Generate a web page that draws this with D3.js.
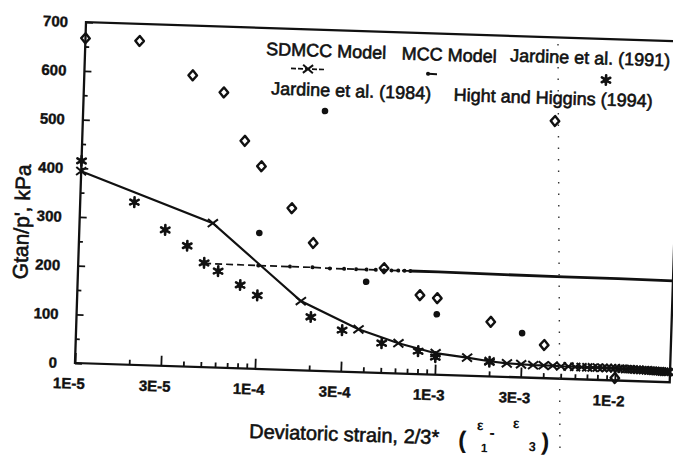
<!DOCTYPE html>
<html><head><meta charset="utf-8">
<script src="https://cdn.jsdelivr.net/npm/d3@7"></script>
<style>
body{margin:0;background:#fff}
svg{display:block}
text{font-family:"Liberation Sans",Arial,Helvetica,sans-serif;fill:#111}
</style>
</head><body><svg id="c" width="673" height="456"></svg>
<script>
// ---------- data ----------
const xTickValues = [1e-5, 3e-5, 1e-4, 3e-4, 1e-3, 3e-3, 1e-2];
const xTickLabels = ["1E-5", "3E-5", "1E-4", "3E-4", "1E-3", "3E-3", "1E-2"];
const xMinorTicks = [2e-5, 4e-5, 5e-5, 6e-5, 7e-5, 8e-5, 9e-5,
                     2e-4, 4e-4, 5e-4, 6e-4, 7e-4, 8e-4, 9e-4,
                     2e-3, 4e-3, 5e-3, 6e-3, 7e-3, 8e-3, 9e-3];
const yTickValues = [0, 100, 200, 300, 400, 500, 600, 700];
const yMinorTicks = [50, 150, 250, 350, 450, 550, 650];

const legendLabels = ["SDMCC Model", "MCC Model", "Jardine et al. (1991)", "Jardine et al. (1984)", "Hight and Higgins (1994)"];

// SDMCC model (line + x markers)
const sdmccStrain = [1e-5, 5.5e-5, 1.75e-4, 3.7e-4, 6.2e-4, 1e-3, 1.5e-3, 2e-3, 2.5e-3, 3e-3,
  3.5e-3, 4e-3, 4.5e-3, 5e-3, 5.5e-3, 6e-3, 6.5e-3, 7e-3, 7.5e-3, 8e-3,
  8.5e-3, 9e-3, 9.5e-3, 1e-2, 1.05e-2, 1.1e-2, 1.15e-2, 1.2e-2, 1.25e-2, 1.3e-2,
  1.35e-2, 1.4e-2, 1.45e-2, 1.5e-2, 1.55e-2, 1.6e-2, 1.65e-2, 1.7e-2, 1.75e-2, 1.8e-2,
  1.85e-2, 1.9e-2, 1.95e-2, 2e-2];
const sdmccG = [394, 296, 142, 88, 62, 44, 37, 31, 28, 27,
  26, 26, 26, 25.5, 25.5, 25, 25, 25, 25, 25,
  25, 25, 25, 25, 24.5, 24.5, 24, 24, 24, 23.5,
  23.5, 23, 23, 23, 22.5, 22.5, 22, 22, 22, 21.5,
  21.5, 21, 21, 21];

// MCC model (dash-dot line with small dots, becoming solid)
const mccStrain = [5e-5, 1e-4, 1.5e-4, 2e-4, 2.5e-4, 3e-4, 3.5e-4, 4e-4, 4.5e-4, 5e-4,
  5.5e-4, 6e-4, 6.5e-4, 7e-4, 1e-3, 2e-3, 5e-3, 1e-2, 2.02e-2];
const mccG = [213, 212, 212, 212, 211, 211, 211, 211, 211, 211,
  211, 211, 211, 211, 211, 210, 209, 209, 208];

// Jardine et al. (1991) - asterisks
const j91Strain = [1e-5, 2e-5, 3e-5, 4e-5, 5e-5, 6e-5, 8e-5, 1e-4, 2e-4, 3e-4, 5e-4, 8e-4, 1e-3, 2e-3];
const j91G = [415, 334, 279, 248, 214, 198, 171, 151, 110, 85, 61, 47, 36, 30];

// Jardine et al. (1984) - filled dots
const j84Strain = [1e-4, 4e-4, 1e-3, 3e-3];
const j84G = [279, 186, 124, 91];

// Hight and Higgins (1994) - open diamonds
const hhStrain = [1e-5, 2e-5, 4e-5, 6e-5, 8e-5, 1e-4, 1.5e-4, 2e-4, 5e-4, 8e-4, 1e-3, 2e-3, 4e-3, 1e-2];
const hhG = [667, 665, 598, 565, 467, 416, 332, 262, 215, 162, 157, 112, 68, 5];

// ---------- layout ----------
const W = 673, H = 456;
const ANG = 1.85;              // scan tilt
const OX = 75, OY = 363;       // bottom-left corner of plot
const PW = 595, PH = 341;
const INK = "#111";

const svg = d3.select("#c");
svg.append("rect").attr("width", W).attr("height", H).attr("fill", "#fff");

const g = svg.append("g")
  .attr("transform", `rotate(${ANG},${OX},${OY}) translate(${OX},${OY - PH})`);

const x = d3.scaleLog().domain([1e-5, 2.02e-2]).range([0, PW]);
const y = d3.scaleLinear().domain([0, 700]).range([PH, 0]);

// minor ticks
const gxm = g.append("g").attr("transform", `translate(0,${PH})`)
  .call(d3.axisBottom(x).tickValues(xMinorTicks).tickFormat(() => "").tickSizeInner(-5).tickSizeOuter(0));
const gym = g.append("g")
  .call(d3.axisLeft(y).tickValues(yMinorTicks).tickFormat(() => "").tickSizeInner(-4).tickSizeOuter(0));

// major ticks
const gx = g.append("g").attr("transform", `translate(0,${PH})`)
  .call(d3.axisBottom(x).tickValues(xTickValues).tickFormat((d, i) => xTickLabels[i])
    .tickSizeInner(-10).tickSizeOuter(0).tickPadding(15));
const gy = g.append("g")
  .call(d3.axisLeft(y).tickValues(yTickValues).tickFormat(d3.format("d"))
    .tickSizeInner(-7).tickSizeOuter(0).tickPadding(18));

[gxm, gym, gx, gy].forEach(a => {
  a.attr("font-family", null).attr("font-size", null);
  a.select(".domain").remove();
  a.selectAll("line").attr("stroke", INK).attr("stroke-width", 1.8);
});
gx.selectAll("text").attr("x", -6).style("font-size", "15px").style("font-weight", "bold")
  .attr("fill", INK).attr("stroke", INK).attr("stroke-width", 0.4);
gy.selectAll("text").style("font-size", "15px").style("font-weight", "bold")
  .attr("fill", INK).attr("stroke", INK).attr("stroke-width", 0.4);

// frame
g.append("rect").attr("x", 0).attr("y", 0).attr("width", PW).attr("height", PH)
  .attr("fill", "none").attr("stroke", INK).attr("stroke-width", 2.3);

// ---------- marker helpers ----------
function diamond(sel) {
  sel.append("path").attr("d", "M0,-5L4.3,0L0,5L-4.3,0Z")
    .attr("fill", "none").attr("stroke", INK).attr("stroke-width", 2.4).attr("stroke-linejoin", "round");
}
function dot(sel) {
  sel.append("circle").attr("r", 3.3).attr("fill", INK);
}
function star(sel) {
  sel.append("path").attr("d", "M0,-4.8L0,4.8M-4.2,-2.4L4.2,2.4M-4.2,2.4L4.2,-2.4")
    .attr("stroke", INK).attr("stroke-width", 2.6).attr("stroke-linecap", "round");
  sel.append("circle").attr("r", 2.8).attr("fill", INK);
}
function cross(sel) {
  sel.append("path").attr("d", "M-5,-4L5,4M-5,4L5,-4")
    .attr("stroke", INK).attr("stroke-width", 2);
}

// ---------- series ----------
const mccPts = mccStrain.map((s, i) => [s, mccG[i]]);
const mccSplit = mccStrain.indexOf(7e-4);
const lineGen = d3.line().x(d => x(d[0])).y(d => y(d[1]));

g.append("path").datum(mccPts.slice(0, mccSplit + 1))
  .attr("d", lineGen).attr("fill", "none").attr("stroke", INK)
  .attr("stroke-width", 1.7).attr("stroke-dasharray", "7,4");
g.append("path").datum(mccPts.slice(mccSplit))
  .attr("d", lineGen).attr("fill", "none").attr("stroke", INK).attr("stroke-width", 2.8);
g.selectAll(".mccdot").data(mccPts.slice(0, mccSplit + 1)).join("circle")
  .attr("class", "mccdot").attr("cx", d => x(d[0])).attr("cy", d => y(d[1]))
  .attr("r", 2).attr("fill", INK);

const sdPts = sdmccStrain.map((s, i) => [s, sdmccG[i]]);
g.append("path").datum(sdPts).attr("d", lineGen)
  .attr("fill", "none").attr("stroke", INK).attr("stroke-width", 2.2);
g.selectAll(".sdm").data(sdPts).join("g").attr("class", "sdm")
  .attr("transform", d => `translate(${x(d[0])},${y(d[1])})`).call(cross);

g.selectAll(".j91").data(j91Strain.map((s, i) => [s, j91G[i]])).join("g").attr("class", "j91")
  .attr("transform", d => `translate(${x(d[0])},${y(d[1])})`).call(star);

g.selectAll(".j84").data(j84Strain.map((s, i) => [s, j84G[i]])).join("g").attr("class", "j84")
  .attr("transform", d => `translate(${x(d[0])},${y(d[1])})`).call(dot);

g.selectAll(".hh").data(hhStrain.map((s, i) => [s, hhG[i]])).join("g").attr("class", "hh")
  .attr("transform", d => `translate(${x(d[0])},${y(d[1])})`).call(diamond);

// ---------- legend (page coordinates, tilted like the scan) ----------
const tilt = (px, py) => `translate(${px},${py}) rotate(${ANG})`;
const legendText = [
  [326, 57], [449, 61], [590, 64], [351, 97], [553, 104]
];
legendLabels.forEach((t, i) => {
  svg.append("text").attr("transform", tilt(legendText[i][0], legendText[i][1]))
    .attr("text-anchor", "middle").style("font-size", "18px")
    .attr("stroke", INK).attr("stroke-width", 0.6).text(t);
});
// legend markers
const lg1 = svg.append("g").attr("transform", tilt(308, 69));
lg1.append("line").attr("x1", -17).attr("x2", 17).attr("stroke", INK).attr("stroke-width", 1.7).attr("stroke-dasharray", "5,2");
lg1.call(cross);
const lg2 = svg.append("g").attr("transform", tilt(432, 74));
lg2.append("line").attr("x1", -4).attr("x2", 5).attr("stroke", INK).attr("stroke-width", 2);
lg2.append("circle").attr("cx", -4).attr("r", 2).attr("fill", INK);
svg.append("g").attr("transform", tilt(606, 80)).call(star);
svg.append("g").attr("transform", tilt(325, 111)).call(dot);
svg.append("g").attr("transform", tilt(555, 121)).call(diamond);

// ---------- axis titles ----------
svg.append("text").attr("transform", `translate(29,222) rotate(${-90 + ANG})`)
  .attr("text-anchor", "middle").style("font-size", "21px")
  .attr("stroke", INK).attr("stroke-width", 0.6).text("Gtan/p', kPa");

svg.append("text").attr("transform", tilt(344, 441))
  .attr("text-anchor", "middle").style("font-size", "20px")
  .attr("stroke", INK).attr("stroke-width", 0.6).text("Deviatoric strain, 2/3*");

const paren = [
  ["(", 462, 448, 24], ["ε", 480, 430, 14], ["1", 484, 452, 12], ["-", 492, 438, 16],
  ["ε", 516, 428, 14], ["3", 532, 451, 13], [")", 545, 450, 24]
];
paren.forEach(p => {
  svg.append("text").attr("transform", tilt(p[1], p[2])).attr("text-anchor", "middle")
    .style("font-size", p[3] + "px").style("font-weight", "bold").text(p[0]);
});

// scan fold artifact (dotted vertical)
svg.append("line").attr("x1", 558).attr("y1", 44).attr("x2", 560).attr("y2", 456)
  .attr("stroke", "#333").attr("stroke-width", 1.4).attr("stroke-dasharray", "1.5,10");
</script>
</body></html>
